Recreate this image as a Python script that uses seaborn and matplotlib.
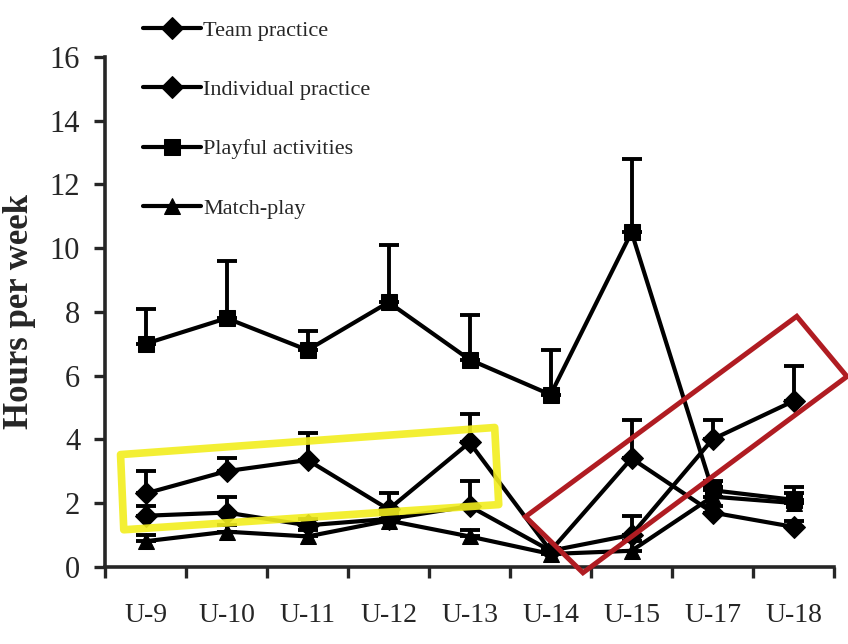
import numpy as np
import pandas as pd
import matplotlib.pyplot as plt
import seaborn as sns
from matplotlib.patches import Polygon

age_groups = ["U-9", "U-10", "U-11", "U-12", "U-13", "U-14", "U-15", "U-17", "U-18"]
series_names = ["Team practice", "Individual practice", "Playful activities", "Match-play"]

team_practice = [2.3, 3.0, 3.35, 1.8, 3.9, 0.5, 3.4, 1.7, 1.25]
team_practice_err = [0.7, 0.4, 0.85, 0.5, 0.9, 0.1, 1.2, 0.2, 0.2]
individual_practice = [1.6, 1.7, 1.3, 1.5, 1.9, 0.5, 1.0, 4.0, 5.2]
individual_practice_err = [0.3, 0.5, 0.2, 0.2, 0.8, 0.1, 0.6, 0.6, 1.1]
playful_activities = [7.0, 7.8, 6.8, 8.3, 6.5, 5.4, 10.5, 2.4, 2.1]
playful_activities_err = [1.1, 1.8, 0.6, 1.8, 1.4, 1.4, 2.3, 0.3, 0.4]
match_play = [0.8, 1.1, 0.95, 1.45, 0.95, 0.4, 0.5, 2.2, 2.0]
match_play_err = [0.2, 0.2, 0.2, 0.2, 0.2, 0.1, 0.3, 0.3, 0.3]

values = [team_practice, individual_practice, playful_activities, match_play]
errors = [team_practice_err, individual_practice_err, playful_activities_err, match_play_err]

pos = np.arange(len(age_groups))
df = pd.DataFrame({
    "pos": np.tile(pos, len(series_names)),
    "hours": np.concatenate(values),
    "series": np.repeat(series_names, len(age_groups)),
})

sns.set_style("ticks")
plt.rcParams["font.family"] = ["Liberation Serif", "DejaVu Serif"]

fig, ax = plt.subplots(figsize=(8.48, 6.44), dpi=100)
fig.subplots_adjust(left=0.124, right=0.9835, bottom=0.12, top=0.9115)

markers = {"Team practice": "D", "Individual practice": "D",
           "Playful activities": "s", "Match-play": "^"}
sns.lineplot(data=df, x="pos", y="hours", hue="series", style="series",
             palette=["black"] * 4, markers=markers, dashes=False,
             linewidth=3, markersize=11, markeredgecolor="black", ax=ax, zorder=3)

for v, e in zip(values, errors):
    ax.errorbar(pos, v, yerr=[np.zeros(len(e)), e], fmt="none", ecolor="black",
                elinewidth=2.8, capsize=7, capthick=2.8, zorder=2)

# highlight boxes drawn in data units
yellow = Polygon([(-0.31, 3.52), (4.31, 4.37), (4.36, 1.95), (-0.27, 1.16)],
                 closed=True, fill=False, edgecolor="#f2ee1e", linewidth=5.5,
                 joinstyle="round", alpha=0.9, zorder=5, clip_on=False)
red = Polygon([(4.69, 1.57), (5.40, -0.19), (8.66, 5.97), (8.04, 7.86)],
              closed=True, fill=False, edgecolor="#b01c22", linewidth=3.6,
              zorder=5, clip_on=False)
ax.add_patch(yellow)
ax.add_patch(red)

ax.set_xlim(-0.5, len(age_groups) - 0.5)
ax.set_ylim(0, 16)
ax.set_yticks(np.arange(0, 17, 2))
ax.set_xticks(np.arange(-0.5, len(age_groups), 1))
ax.set_xticklabels([])
ax.set_xticks(pos, minor=True)
ax.set_xticklabels(age_groups, minor=True)
ax.tick_params(axis="x", which="major", length=8, width=2.4, direction="out")
ax.tick_params(axis="x", which="minor", length=0, pad=26, labelsize=20)
ax.tick_params(axis="y", length=8, width=2.4, pad=10, labelsize=22)
for s in ["left", "bottom"]:
    ax.spines[s].set_linewidth(2.6)
sns.despine(ax=ax)

ax.set_xlabel("")
ax.set_ylabel("Hours per week", fontsize=25, fontweight="bold", labelpad=10)

sns.move_legend(ax, "upper left", bbox_to_anchor=(0.145, 1.0),
                bbox_transform=fig.transFigure, frameon=False, title=None,
                labelspacing=1.75, handlelength=2.6, handletextpad=0.1,
                fontsize=16)

fig.savefig("out.png", dpi=100)
